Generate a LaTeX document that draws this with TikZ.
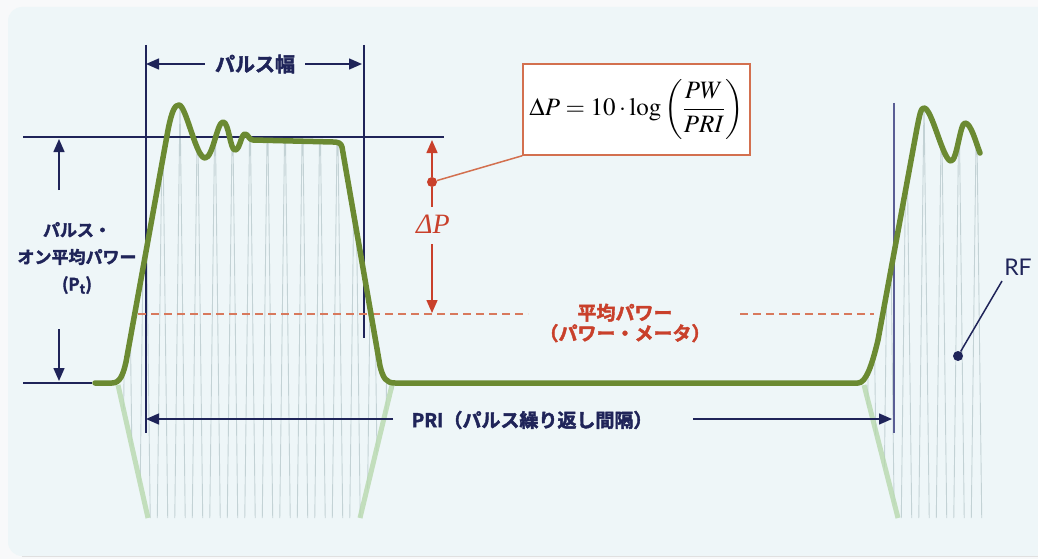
\documentclass[tikz,border=0pt]{standalone}
\usepackage{mathptmx}
\usepackage[no-math]{fontspec}
\newfontfamily\jp{Noto Sans CJK JP Bold}[FakeBold=2.2]
\newfontfamily\lato{Lato}
\newfontfamily\tms{Liberation Serif}
\usetikzlibrary{arrows.meta}
\definecolor{navy}{HTML}{1F2459}
\definecolor{navyl}{HTML}{5A5E95}
\definecolor{pulsegreen}{HTML}{6B8A32}
\definecolor{ghostgreen}{HTML}{B7D9AE}
\definecolor{carriergray}{HTML}{C3D2D5}
\definecolor{redc}{HTML}{C9402B}
\definecolor{boxred}{HTML}{D3704F}
\definecolor{dashred}{HTML}{D8795D}
\definecolor{panel}{HTML}{EEF6F8}
\definecolor{outerbg}{HTML}{F8F9FA}
\tikzset{
  navyline/.style={draw=navy, line width=1.4pt},
  navyarrow/.style={draw=navy, line width=1.4pt, -{Triangle[length=13pt,width=11pt]}},
  redline/.style={draw=redc, line width=1.5pt},
  redarrow/.style={draw=redc, line width=1.5pt, -{Triangle[length=13pt,width=11pt]}},
  pulse/.style={draw=pulsegreen, line width=5.5pt, line join=round, line cap=round},
  ghost/.style={draw=ghostgreen, line width=5pt, opacity=0.8},
  carrier/.style={draw=carriergray, line width=0.9pt},
  avgline/.style={draw=dashred, line width=1.6pt, dash pattern=on 8pt off 5pt},
  jplabel/.style={font=\jp\fontsize{17}{27}\selectfont, text=navy, inner sep=0pt, align=center},
  dotstyle/.style={circle, inner sep=0pt, minimum size=10pt},
}
\def\Lenv{.. controls (120,383) and (123,375) .. (126,362) -- (168,130)
  .. controls (172,110) and (175,105) .. (179,105)
  .. controls (186,105) and (196,158) .. (205,158)
  .. controls (213,158) and (217,122) .. (223,122)
  .. controls (229,122) and (230,150) .. (235,150)
  .. controls (240,150) and (241,134) .. (245,134)
  .. controls (248,134) and (249,140) .. (253,140) -- (333,142)
  .. controls (338,142) and (341,143) .. (342,147) -- (380,366)
  .. controls (383,378) and (386,383) .. (395,383)}
\def\Renv{.. controls (866,383) and (872,365) .. (878,340) -- (917,128)
  .. controls (920,113) and (921,108) .. (924,108)
  .. controls (932,108) and (943,161) .. (951,161)
  .. controls (957,161) and (960,123) .. (965,123)
  .. controls (971,123) and (976,143) .. (980,153)}
\begin{document}
\begin{tikzpicture}[x=1pt,y=-1pt]
\useasboundingbox (0,0) rectangle (1038,559);
% background
\fill[outerbg] (0,0) rectangle (1038,559);
\fill[panel, rounded corners=14pt] (8,7) rectangle (1060,556);
\draw[black!12, line width=1pt] (22,556.5) -- (1038,556.5);

% carrier lines (left pulse)
\begin{scope}
  \clip (112,383) \Lenv -- (360,518) -- (148,518) -- (118,385) -- cycle;
  \draw[carrier] (110,100) \foreach \i in {0,...,16} { -- ({118.75+17.5*\i},800) -- ({127.5+17.5*\i},100) };
\end{scope}
% carrier lines (right pulse)
\begin{scope}
  \clip (858,383) \Renv -- (985,150) -- (985,518) -- (898,518) -- (862,385) -- cycle;
  \draw[carrier] (854,100) \foreach \i in {0,...,8} { -- ({862.75+17.5*\i},800) -- ({871.5+17.5*\i},100) };
\end{scope}

% ghost (lower mirror) envelope
\draw[ghost] (118,385) -- (148,518);
\draw[ghost] (392,385) -- (360,518);
\draw[ghost] (864,385) -- (898,518);

% reference lines
\coordinate (ptL) at (23,137);
\coordinate (ptR) at (444,137);
\coordinate (bsL) at (23,383);
\coordinate (bsR) at (92,383);
\coordinate (vaT) at (146,45);
\coordinate (vaB) at (146,433);
\coordinate (vbT) at (364,45);
\coordinate (vbB) at (364,338);
\coordinate (vcT) at (894,103);
\coordinate (vcB) at (894,433);
\draw[navyline] (ptL) -- (ptR);
\draw[navyline] (bsL) -- (bsR);
\draw[navyline] (vaT) -- (vaB);
\draw[navyline] (vbT) -- (vbB);
\draw[draw=navyl, line width=1.4pt] (vcT) -- (vcB);

% average power dashed line
\coordinate (avA) at (138,314);
\coordinate (avB) at (528,314);
\coordinate (avC) at (740,314);
\coordinate (avD) at (874,314);
\draw[avgline] (avA) -- (avB);
\draw[avgline] (avC) -- (avD);

% pulse envelope
\draw[pulse] (95,383) -- (112,383) \Lenv -- (858,383) \Renv;

% pulse width
\node[jplabel, font=\jp\fontsize{20}{24}\selectfont] (pw) at (255,64) {パルス幅};
\draw[navyarrow] ([xshift=-10pt]pw.west) -- (pw -| vaT);
\draw[navyarrow] ([xshift=10pt]pw.east) -- ([xshift=-2pt]pw -| vbT);

% pulse-on average power
\node[jplabel] (pon) at (77,258) {パルス・\\オン平均パワー\\(P\textsubscript{t})};
\coordinate (upA) at (59,190);
\coordinate (upB) at (59,139);
\coordinate (dnA) at (59,329);
\coordinate (dnB) at (59,381);
\draw[navyarrow] (upA) -- (upB);
\draw[navyarrow] (dnA) -- (dnB);

% PRI
\node[jplabel, font=\jp\fontsize{19}{22}\selectfont] (pri) at (532,420) {PRI（パルス繰り返し間隔）};
\coordinate (priL) at (393,419);
\coordinate (priR) at (693,419);
\draw[navyarrow] (priL) -- (vaT |- priL);
\draw[navyarrow] (priR) -- ([xshift=-2pt]vcT |- priR);

% Delta P
\node[dotstyle, fill=redc] (dpdot) at (432,182) {};
\node[text=redc, font=\tms\itshape\fontsize{28}{30}\selectfont, inner sep=0pt] (dp) at (433,224) {ΔP};
\draw[redarrow] (dpdot) -- (432,140);
\draw[redline] (dpdot) -- (432,207);
\draw[redarrow] (432,244) -- (432,313);

% formula box
\node[draw=boxred, line width=1.5pt, fill=white, minimum width=227pt, minimum height=91pt, inner sep=0pt] (box) at (636.5,109.5)
  {\fontsize{25}{30}\selectfont $\displaystyle \Delta P = 10\cdot\log\left(\frac{PW}{PRI}\right)$};
\draw[draw=boxred, line width=1.5pt] (dpdot) -- (box.south west);

% average power label
\node[jplabel, text=redc, font=\jp\fontsize{19}{20.5}\selectfont] (avg) at (625,323) {平均パワー\\（パワー・メータ）};

% RF
\node[text=navy, font=\lato\fontsize{23}{26}\selectfont, inner sep=0pt] (rf) at (1018,267) {RF};
\node[dotstyle, fill=navy] (rfdot) at (958,356) {};
\coordinate (rfend) at (1002,281);
\draw[draw=navy, line width=1.5pt] (rfdot) -- (rfend);
\end{tikzpicture}
\end{document}
